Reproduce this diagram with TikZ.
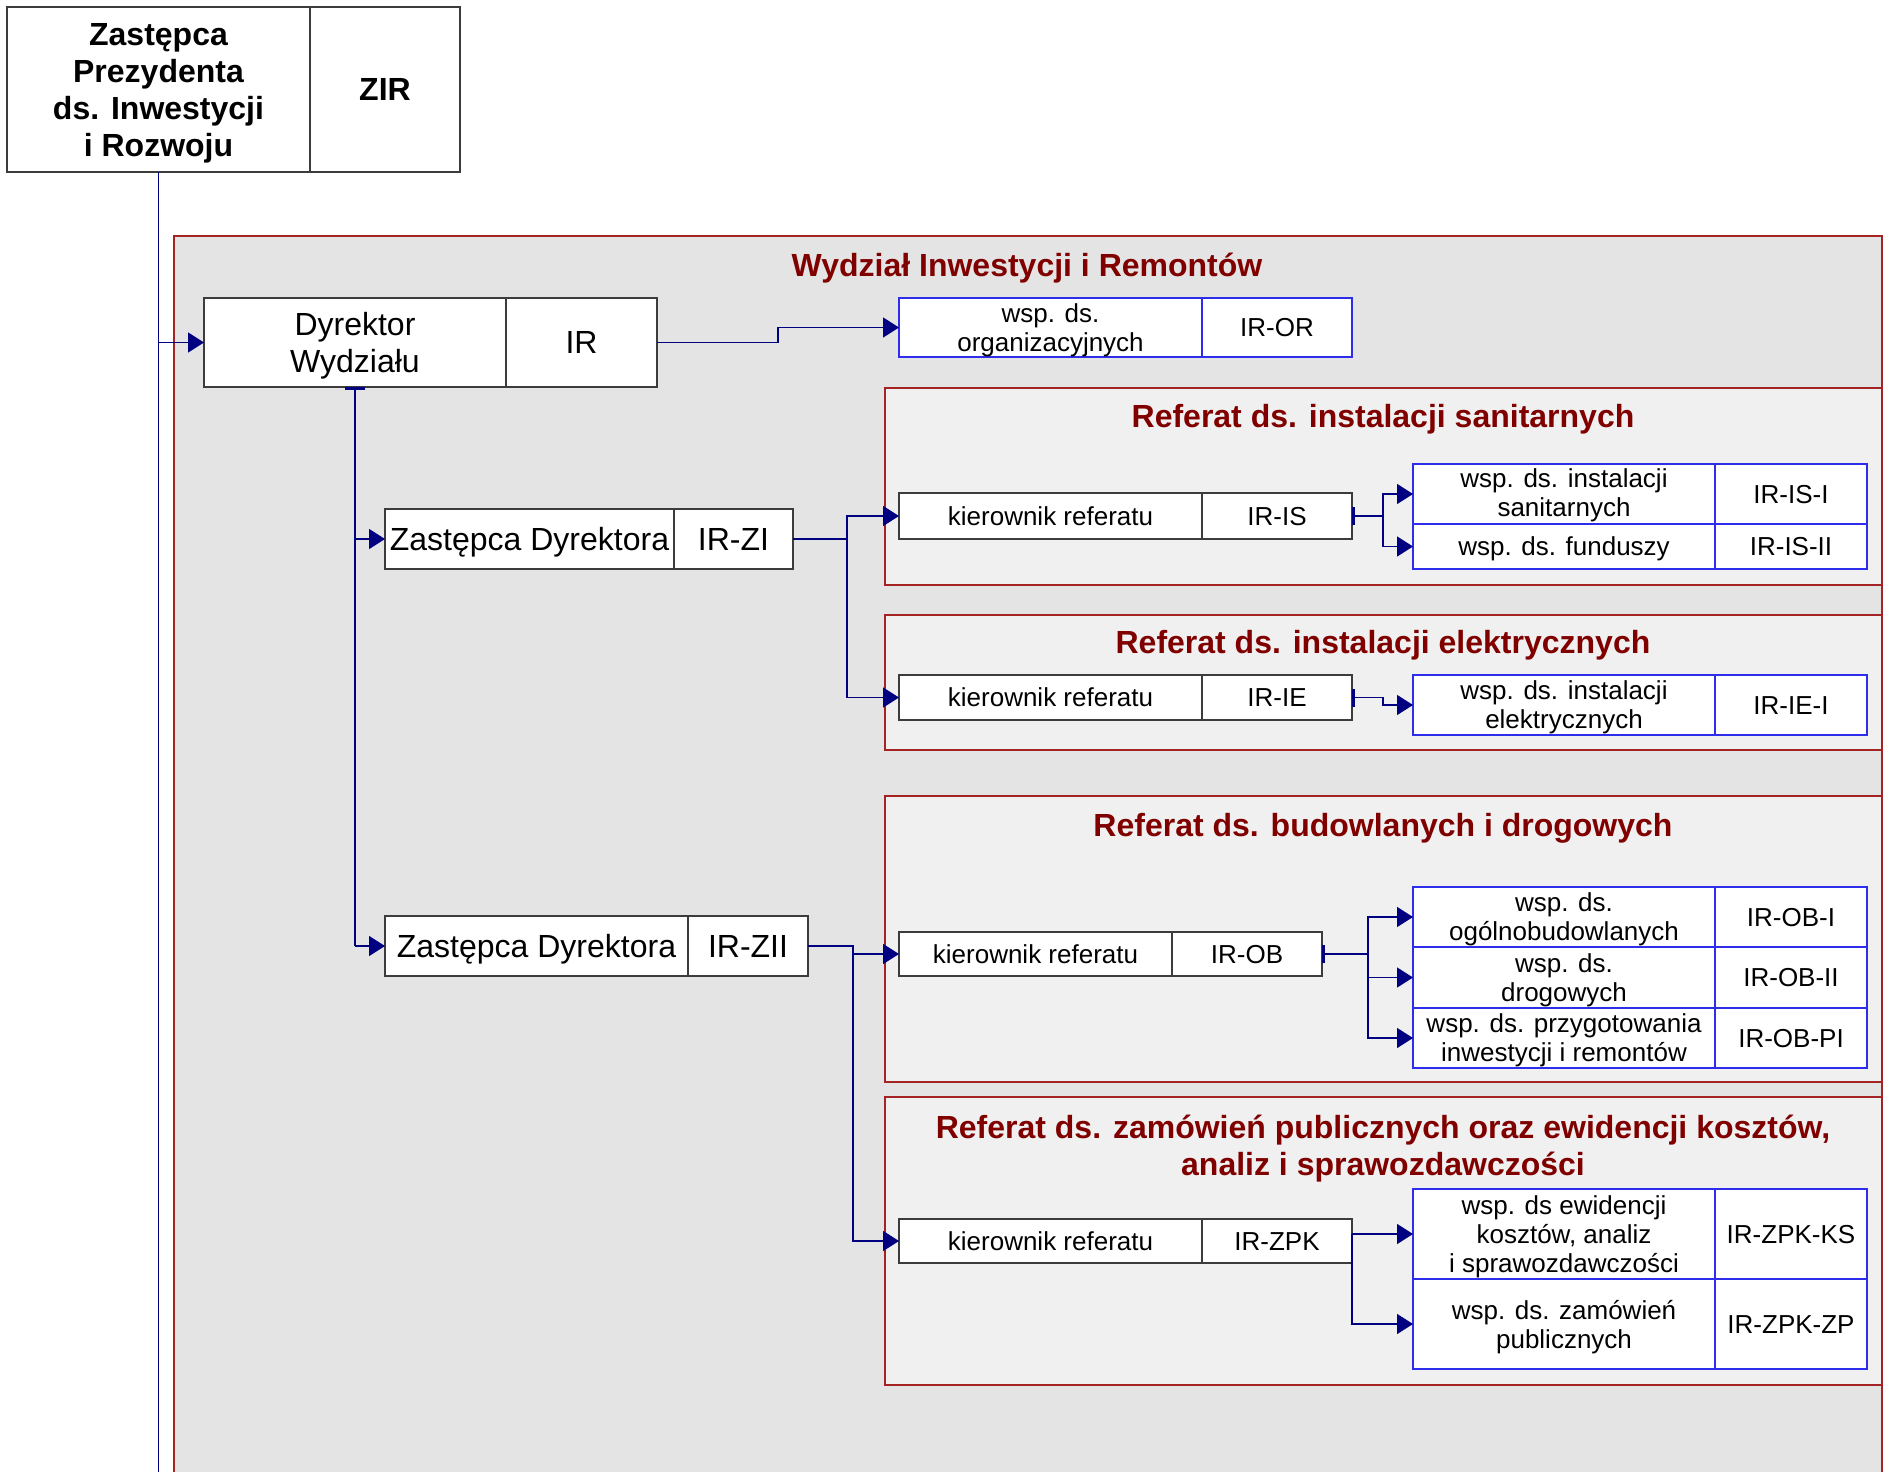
\documentclass[tikz,border=0pt]{standalone}
\usepackage{fontspec}
\setmainfont{Liberation Sans}
\usetikzlibrary{positioning,arrows.meta}

\definecolor{linkblue}{RGB}{0,0,128}
\definecolor{cellblue}{RGB}{45,45,235}
\definecolor{cellframe}{RGB}{60,60,60}
\definecolor{unitred}{RGB}{165,35,35}
\definecolor{titlered}{RGB}{128,0,0}
\definecolor{deptgray}{RGB}{228,228,228}
\definecolor{unitgray}{RGB}{240,240,240}

\newcommand{\cellstrut}{\rule[-0.212em]{0pt}{1.117em}}

\tikzset{every picture/.style={line width=1.5pt}}
\tikzset{
  cell/.style={draw=cellframe, fill=white, inner sep=0pt, outer sep=0pt, align=center,
    font=\fontsize{26}{29}\selectfont,
    execute at begin node=\cellstrut, execute at end node=\cellstrut},
  bigcell/.style={cell, font=\fontsize{32}{37}\selectfont},
  wspcell/.style={cell, draw=cellblue},
  unit/.style={draw=unitred, fill=unitgray},
  unittitle/.style={text=titlered, align=center, font=\bfseries\fontsize{32}{37}\selectfont,
    execute at begin node=\cellstrut, execute at end node=\cellstrut},
  conn/.style={draw=linkblue},
  link/.style={conn, -{Triangle[length=16pt,width=20pt]}},
  tick/.style={{Bar[width=18pt,line width=3pt]}-{Triangle[length=16pt,width=20pt]}},
}

\begin{document}
\begin{tikzpicture}[x=1pt,y=1pt,yscale=-1,xscale=1]
\useasboundingbox (0,0) rectangle (1890,1472);

%Shape: Rectangle [department]
\draw [draw=unitred, fill=deptgray] (174,236) rectangle (1882,1480) ;
% Text Node
\node [unittitle] (t_ir) at (1027,265) {Wydział Inwestycji i Remontów};

%Shape: Rectangle [referat IS]
\draw [unit] (885,388) rectangle (1882,585) ;
\node [unittitle] (t_is) at (1383,416) {Referat ds. instalacji sanitarnych};
%Shape: Rectangle [referat IE]
\draw [unit] (885,615) rectangle (1882,750) ;
\node [unittitle] (t_ie) at (1383,642) {Referat ds. instalacji elektrycznych};
%Shape: Rectangle [referat OB]
\draw [unit] (885,796) rectangle (1882,1082) ;
\node [unittitle] (t_ob) at (1383,825) {Referat ds. budowlanych i drogowych};
%Shape: Rectangle [referat ZPK]
\draw [unit] (885,1097) rectangle (1882,1385) ;
\node [unittitle, text depth=-0.4pt] (t_zpk) at (1383,1145) {Referat ds. zamówień publicznych oraz ewidencji kosztów,\\analiz i sprawozdawczości};

% Zastepca Prezydenta
\node [bigcell, font=\bfseries\fontsize{32}{37}\selectfont, text depth=-3.2pt, anchor=north west, minimum width=303pt, minimum height=165pt] (zp_name) at (7,7) {Zastępca\\Prezydenta\\ds. Inwestycji\\i Rozwoju};
\node [bigcell, font=\bfseries\fontsize{32}{37}\selectfont, right=0pt of zp_name, minimum width=150pt, minimum height=165pt] (zp_code) {ZIR};

% Dyrektor
\node [bigcell, text depth=-0.4pt, anchor=north west, minimum width=302pt, minimum height=89pt] (dyr_name) at (204,298) {Dyrektor\\Wydziału};
\node [bigcell, right=0pt of dyr_name, minimum width=151pt, minimum height=89pt] (dyr_code) {IR};
\node [wspcell, text depth=-1.7pt, anchor=north west, minimum width=303pt, minimum height=59pt] (or_name) at (899,298) {wsp. ds.\\organizacyjnych};
\node [wspcell, right=0pt of or_name, minimum width=150pt, minimum height=59pt] (or_code) {IR-OR};

% Zastepcy Dyrektora
\node [bigcell, anchor=north west, minimum width=289pt, minimum height=60pt] (zi_name) at (385,509) {Zastępca Dyrektora};
\node [bigcell, right=0pt of zi_name, minimum width=119pt, minimum height=60pt] (zi_code) {IR-ZI};
\node [bigcell, anchor=north west, minimum width=303pt, minimum height=60pt] (zii_name) at (385,916) {Zastępca Dyrektora};
\node [bigcell, right=0pt of zii_name, minimum width=120pt, minimum height=60pt] (zii_code) {IR-ZII};

% Referat IS
\node [cell, anchor=north west, minimum width=303pt, minimum height=46pt] (is_name) at (899,493) {kierownik referatu};
\node [cell, right=0pt of is_name, minimum width=150pt, minimum height=46pt] (is_code) {IR-IS};
\node [wspcell, text depth=3.1pt, anchor=north west, minimum width=302pt, minimum height=60pt] (isI_name) at (1413,464) {wsp. ds. instalacji\\sanitarnych};
\node [wspcell, right=0pt of isI_name, minimum width=152pt, minimum height=60pt] (isI_code) {IR-IS-I};
\node [wspcell, below=0pt of isI_name, minimum width=302pt, minimum height=45pt] (isII_name) {wsp. ds. funduszy};
\node [wspcell, right=0pt of isII_name, minimum width=152pt, minimum height=45pt] (isII_code) {IR-IS-II};

% Referat IE
\node [cell, anchor=north west, minimum width=303pt, minimum height=45pt] (ie_name) at (899,675) {kierownik referatu};
\node [cell, right=0pt of ie_name, minimum width=150pt, minimum height=45pt] (ie_code) {IR-IE};
\node [wspcell, text depth=0.7pt, anchor=north west, minimum width=302pt, minimum height=60pt] (ieI_name) at (1413,675) {wsp. ds. instalacji\\elektrycznych};
\node [wspcell, right=0pt of ieI_name, minimum width=152pt, minimum height=60pt] (ieI_code) {IR-IE-I};

% Referat OB
\node [cell, anchor=north west, minimum width=273pt, minimum height=44pt] (ob_name) at (899,932) {kierownik referatu};
\node [cell, right=0pt of ob_name, minimum width=150pt, minimum height=44pt] (ob_code) {IR-OB};
\node [wspcell, text depth=0.7pt, anchor=north west, minimum width=302pt, minimum height=60pt] (obI_name) at (1413,887) {wsp. ds.\\ogólnobudowlanych};
\node [wspcell, right=0pt of obI_name, minimum width=152pt, minimum height=60pt] (obI_code) {IR-OB-I};
\node [wspcell, text depth=0.7pt, below=0pt of obI_name, minimum width=302pt, minimum height=61pt] (obII_name) {wsp. ds.\\drogowych};
\node [wspcell, right=0pt of obII_name, minimum width=152pt, minimum height=61pt] (obII_code) {IR-OB-II};
\node [wspcell, text depth=0.7pt, below=0pt of obII_name, minimum width=302pt, minimum height=60pt] (obPI_name) {wsp. ds. przygotowania\\inwestycji i remontów};
\node [wspcell, right=0pt of obPI_name, minimum width=152pt, minimum height=60pt] (obPI_code) {IR-OB-PI};

% Referat ZPK
\node [cell, anchor=north west, minimum width=303pt, minimum height=44pt] (zpk_name) at (899,1219) {kierownik referatu};
\node [cell, right=0pt of zpk_name, minimum width=150pt, minimum height=44pt] (zpk_code) {IR-ZPK};
\node [wspcell, text depth=0.7pt, anchor=north west, minimum width=302pt, minimum height=90pt] (ks_name) at (1413,1189) {wsp. ds ewidencji\\kosztów, analiz\\i sprawozdawczości};
\node [wspcell, right=0pt of ks_name, minimum width=152pt, minimum height=90pt] (ks_code) {IR-ZPK-KS};
\node [wspcell, text depth=-1.7pt, below=0pt of ks_name, minimum width=302pt, minimum height=90pt] (zpz_name) {wsp. ds. zamówień\\publicznych};
\node [wspcell, right=0pt of zpz_name, minimum width=152pt, minimum height=90pt] (zpz_code) {IR-ZPK-ZP};

% Connectors
\coordinate (page_bottom) at (158,1472);
\draw [conn] (zp_name.south) -- (zp_name.south |- page_bottom) ;
\draw [link] (zp_name.south |- dyr_name.west) -- (dyr_name.west) ;
\draw [link] (dyr_code.east) -- ++(121,0) |- (or_name.west) ;
\draw [conn, {Bar[width=20pt,line width=3pt]}-] (dyr_name.south) -- (dyr_name.south |- zii_name.west) ;
\draw [link] (dyr_name.south |- zi_name.west) -- (zi_name.west) ;
\draw [link] (dyr_name.south |- zii_name.west) -- (zii_name.west) ;

\draw [link] (zi_code.east) -- ++(54,0) |- (is_name.west) ;
\draw [link] (zi_code.east) -- ++(54,0) |- (ie_name.west) ;
\draw [conn, tick] (is_code.east) -- ++(31,0) |- (isI_name.west) ;
\draw [conn, tick] (is_code.east) -- ++(31,0) |- (isII_name.west) ;
\draw [conn, tick] (ie_code.east) -- ++(31,0) |- (ieI_name.west) ;

\draw [link] (zii_code.east) -- ++(45,0) |- (ob_name.west) ;
\draw [link] (zii_code.east) -- ++(45,0) |- (zpk_name.west) ;
\draw [conn, tick] (ob_code.east) -- ++(46,0) |- (obI_name.west) ;
\draw [conn, tick] (ob_code.east) -- ++(46,0) |- (obII_name.west) ;
\draw [conn, tick] (ob_code.east) -- ++(46,0) |- (obPI_name.west) ;
\draw [link] (zpk_code.east |- ks_name.west) -- (ks_name.west) ;
\draw [link] (zpk_code.east |- ks_name.west) |- (zpz_name.west) ;

\end{tikzpicture}
\end{document}
